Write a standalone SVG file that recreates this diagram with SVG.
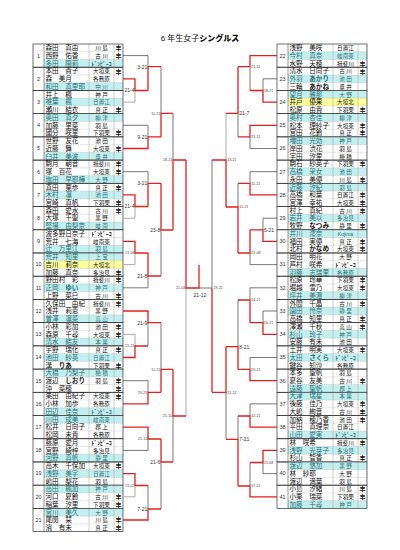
<svg xmlns="http://www.w3.org/2000/svg" xmlns:xlink="http://www.w3.org/1999/xlink" width="400" height="550" viewBox="0 0 400 550">
<style>
text{font-family:"Liberation Sans","Noto Sans CJK JP",sans-serif;fill:#111}
.nm{font-size:6.6px}
.ch{fill:#1f6f78}
.af{font-size:5.6px;text-anchor:middle}
.hk{font-size:5.8px;font-weight:bold}
.mk{font-size:6px;font-weight:bold;text-anchor:middle}
.no{font-size:5.5px;text-anchor:middle;fill:#333}
.b{font-weight:bold}
.c{fill:#c4efef}
.y{fill:#ffff99}
.bx{fill:none;stroke:#333;stroke-width:0.7}
.dl{stroke:#9a9a9a;stroke-width:0.4;stroke-dasharray:1 0.8;fill:none}
.cl{stroke:#333;stroke-width:0.5}
.cl2{stroke:#888;stroke-width:0.4}
.sc{font-family:"Liberation Sans",Arial,sans-serif;font-size:5px;fill:#333}
.ss{font-family:"Liberation Sans",Arial,sans-serif;font-size:3.6px;fill:#444}
.e{text-anchor:end}
.d{stroke:#555;stroke-width:0.8;fill:none}
.g{stroke:#aaa;stroke-width:1;fill:none}
.r{stroke:#e3201b;stroke-width:1.3;fill:none}
</style>
<defs>
<g id="grid">
<path d="M44,7.74H123M44,15.48H123" class="dl"/>
<path d="M44,0V23.22" class="cl"/>
<path d="M89,0V23.22M114,0V23.22" class="cl2"/>
<rect x="33" y="0" width="90" height="23.22" class="bx"/>
</g>
</defs>
<rect width="400" height="550" fill="#fff"/>
<text x="200" y="40.5" text-anchor="middle" font-size="8">6 年生女子<tspan font-weight="900">シングルス</tspan></text>

<g id="g1" transform="translate(0,44)"><rect class="c" x="44" y="15.48" width="79" height="7.74"/><use href="#grid"/><text class="no" x="38.5" y="13.5">1</text>
<text class="nm" x="45.5" y="6.2">森田　真由</text><text class="af" x="101.5" y="6.2">川 島</text><text class="mk" x="118.5" y="6.3">丰</text>
<text class="nm" x="45.5" y="13.94">西野　佑香</text><text class="af" x="101.5" y="13.94">古 川</text><text class="mk" x="118.5" y="14">丰</text>
<text class="nm ch" x="45.5" y="21.68">多田　陽莉</text><text class="af hk ch" x="101.5" y="21.68">ﾄﾞﾝﾋﾟｰｺ</text></g>

<g id="g2" transform="translate(0,67.22)"><rect class="c" x="44" y="15.48" width="79" height="7.74"/><use href="#grid"/><text class="no" x="38.5" y="13.5">2</text>
<text class="nm" x="45.5" y="6.2">本田　貴子</text><text class="af" x="101.5" y="6.2">大垣東</text><text class="mk" x="118.5" y="6.3">丰</text>
<text class="nm" x="45.5" y="13.94">森　美月</text><text class="af" x="101.5" y="13.94">各務原</text>
<text class="nm ch" x="45.5" y="21.68">和田　真里耶</text><text class="af ch" x="101.5" y="21.68">中 川</text></g>

<g id="g3" transform="translate(0,90.44)"><rect class="c" x="44" y="7.74" width="79" height="7.74"/><use href="#grid"/><text class="no" x="38.5" y="13.5">3</text>
<text class="nm" x="45.5" y="6.2">井上　楓</text><text class="af" x="101.5" y="6.2">神 戸</text>
<text class="nm ch" x="45.5" y="13.94">椎葉　楓</text><text class="af ch" x="101.5" y="13.94">日置江</text>
<text class="nm" x="45.5" y="21.68">瀬川　結衣</text><text class="af" x="101.5" y="21.68">真 正</text><text class="mk" x="118.5" y="21.7">丰</text></g>

<g id="g4" transform="translate(0,113.66)"><rect class="c" x="44" y="0" width="79" height="7.74"/><use href="#grid"/><text class="no" x="38.5" y="13.5">4</text>
<text class="nm ch" x="45.5" y="6.2">奥田　真夕</text><text class="af ch" x="101.5" y="6.2">柳 津</text>
<text class="nm" x="45.5" y="13.94">加藤　里菜</text><text class="af" x="101.5" y="13.94">羽 島</text>
<text class="nm" x="45.5" y="21.68">國分　咲里</text><text class="af" x="101.5" y="21.68">下羽栗</text><text class="mk" x="118.5" y="21.7">丰</text></g>

<g id="g5" transform="translate(0,136.88)"><rect class="c" x="44" y="15.48" width="79" height="7.74"/><use href="#grid"/><text class="no" x="38.5" y="13.5">5</text>
<text class="nm" x="45.5" y="6.2">世野　友花</text><text class="af" x="101.5" y="6.2">池 田</text>
<text class="nm" x="45.5" y="13.94">近藤　舞</text><text class="af" x="101.5" y="13.94">大垣東</text><text class="mk" x="118.5" y="14">丰</text>
<text class="nm ch" x="45.5" y="21.68">臼井　美波</text><text class="af ch" x="101.5" y="21.68">垂 井</text></g>

<g id="g6" transform="translate(0,160.1)"><rect class="c" x="44" y="15.48" width="79" height="7.74"/><use href="#grid"/><text class="no" x="38.5" y="13.5">6</text>
<text class="nm" x="45.5" y="6.2">駒月　朝音</text><text class="af" x="101.5" y="6.2">揖斐川</text><text class="mk" x="118.5" y="6.3">丰</text>
<text class="nm" x="45.5" y="13.94">塚　百花</text><text class="af" x="101.5" y="13.94">大垣東</text><text class="mk" x="118.5" y="14">丰</text>
<text class="nm ch" x="45.5" y="21.68">塩田　早耶樺</text><text class="af ch" x="101.5" y="21.68">大 野</text></g>

<g id="g7" transform="translate(0,183.32)"><rect class="c" x="44" y="7.74" width="79" height="7.74"/><use href="#grid"/><text class="no" x="38.5" y="13.5">7</text>
<text class="nm" x="45.5" y="6.2">真田　栗歩</text><text class="af" x="101.5" y="6.2">真 正</text><text class="mk" x="118.5" y="6.3">丰</text>
<text class="nm ch" x="45.5" y="13.94">木村　凛</text><text class="af ch" x="101.5" y="13.94">池 田</text>
<text class="nm" x="45.5" y="21.68">宮崎　真帆</text><text class="af" x="101.5" y="21.68">下羽栗</text><text class="mk" x="118.5" y="21.7">丰</text></g>

<g id="g8" transform="translate(0,206.54)"><rect class="c" x="44" y="15.48" width="79" height="7.74"/><use href="#grid"/><text class="no" x="38.5" y="13.5">8</text>
<text class="nm" x="45.5" y="6.2">森田　愛水</text><text class="af" x="101.5" y="6.2">古 川</text><text class="mk" x="118.5" y="6.3">丰</text>
<text class="nm" x="45.5" y="13.94">大塚　千聖</text><text class="af" x="101.5" y="13.94">黒 野</text>
<text class="nm ch" x="45.5" y="21.68">堅場　由梨奈</text><text class="af ch" x="101.5" y="21.68">岐 南</text></g>

<g id="g9" transform="translate(0,229.76)"><rect class="c" x="44" y="15.48" width="79" height="7.74"/><use href="#grid"/><text class="no" x="38.5" y="13.5">9</text>
<text class="nm" x="45.5" y="6.2">波多野日奈子</text><text class="af hk" x="101.5" y="6.2">ﾄﾞﾝﾋﾟｰｺ</text>
<text class="nm" x="45.5" y="13.94">荒井　七海</text><text class="af" x="101.5" y="13.94">岐南東</text>
<text class="nm ch" x="45.5" y="21.68">辻　万里江</text><text class="af ch" x="101.5" y="21.68">羽 島</text></g>

<g id="g10" transform="translate(0,252.98)"><rect class="c" x="44" y="0" width="79" height="7.74"/><rect class="y" x="44" y="7.74" width="79" height="7.74"/><use href="#grid"/><text class="no" x="38.5" y="13.5">10</text>
<text class="nm ch" x="45.5" y="6.2">荒井　知里</text><text class="af ch" x="101.5" y="6.2">上 宝</text>
<text class="nm" x="45.5" y="13.94">吉川　莉奈</text><text class="af" x="101.5" y="13.94">大垣北</text>
<text class="nm" x="45.5" y="21.68">加藤　真奈</text><text class="af" x="101.5" y="21.68">多治見</text><text class="mk" x="118.5" y="21.7">丰</text></g>

<g id="g11" transform="translate(0,276.2)"><rect class="c" x="44" y="7.74" width="79" height="7.74"/><use href="#grid"/><text class="no" x="38.5" y="13.5">11</text>
<text class="nm" x="45.5" y="6.2">野田村　彩</text><text class="af" x="101.5" y="6.2">揖斐川</text><text class="mk" x="118.5" y="6.3">丰</text>
<text class="nm ch" x="45.5" y="13.94">正岡　<tspan class="b">ゆい</tspan></text><text class="af ch" x="101.5" y="13.94">神 戸</text>
<text class="nm" x="45.5" y="21.68">上野　菜巳</text><text class="af" x="101.5" y="21.68">古 川</text><text class="mk" x="118.5" y="21.7">丰</text></g>

<g id="g12" transform="translate(0,299.42)"><rect class="c" x="44" y="15.48" width="79" height="7.74"/><use href="#grid"/><text class="no" x="38.5" y="13.5">12</text>
<text class="nm" x="45.5" y="6.2">久保田　由紀</text><text class="af" x="101.5" y="6.2">揖斐川</text><text class="mk" x="118.5" y="6.3">丰</text>
<text class="nm" x="45.5" y="13.94">浅井　莉恵</text><text class="af" x="101.5" y="13.94">黒 野</text>
<text class="nm ch" x="45.5" y="21.68">曽澤　凛菜</text><text class="af ch" x="101.5" y="21.68">高 山</text></g>

<g id="g13" transform="translate(0,322.64)"><rect class="c" x="44" y="15.48" width="79" height="7.74"/><use href="#grid"/><text class="no" x="38.5" y="13.5">13</text>
<text class="nm" x="45.5" y="6.2">小林　彩加</text><text class="af" x="101.5" y="6.2">池 田</text><text class="mk" x="118.5" y="6.3">丰</text>
<text class="nm" x="45.5" y="13.94">森原　千尋</text><text class="af" x="101.5" y="13.94">大垣東</text><text class="mk" x="118.5" y="14">丰</text>
<text class="nm ch" x="45.5" y="21.68">清水　結友</text><text class="af ch" x="101.5" y="21.68">本 巣</text></g>

<g id="g14" transform="translate(0,345.86)"><rect class="c" x="44" y="7.74" width="79" height="7.74"/><use href="#grid"/><text class="no" x="38.5" y="13.5">14</text>
<text class="nm" x="45.5" y="6.2">宇野　瑞化</text><text class="af" x="101.5" y="6.2">真 正</text><text class="mk" x="118.5" y="6.3">丰</text>
<text class="nm ch" x="45.5" y="13.94">池田　紗英</text><text class="af ch" x="101.5" y="13.94">日置江</text>
<text class="nm" x="45.5" y="21.68">溝　<tspan class="b">りあ</tspan></text><text class="af" x="101.5" y="21.68">下羽栗</text><text class="mk" x="118.5" y="21.7">丰</text></g>

<g id="g15" transform="translate(0,369.08)"><rect class="c" x="44" y="0" width="79" height="7.74"/><use href="#grid"/><text class="no" x="38.5" y="13.5">15</text>
<text class="nm ch" x="45.5" y="6.2">大橋　乃梨子</text><text class="af ch" x="101.5" y="6.2">穂 積</text>
<text class="nm" x="45.5" y="13.94">渡辺　<tspan class="b">しおり</tspan></text><text class="af" x="101.5" y="13.94">羽 島</text><text class="mk" x="118.5" y="14">丰</text>
<text class="nm" x="45.5" y="21.68">沖　菜穂</text><text class="mk" x="118.5" y="21.7">丰</text></g>

<g id="g16" transform="translate(0,392.3)"><rect class="c" x="44" y="15.48" width="79" height="7.74"/><use href="#grid"/><text class="no" x="38.5" y="13.5">16</text>
<text class="nm" x="45.5" y="6.2">栗田　由紀子</text><text class="af" x="101.5" y="6.2">大垣東</text><text class="mk" x="118.5" y="6.3">丰</text>
<text class="nm" x="45.5" y="13.94">小林　加歩</text><text class="af" x="101.5" y="13.94">各務原</text>
<text class="nm ch" x="45.5" y="21.68">田辺　佳奈</text><text class="af hk ch" x="101.5" y="21.68">ﾄﾞﾝﾋﾟｰｺ</text></g>

<g id="g17" transform="translate(0,415.52)"><rect class="c" x="44" y="0" width="79" height="7.74"/><use href="#grid"/><text class="no" x="38.5" y="13.5">17</text>
<text class="nm ch" x="45.5" y="6.2">川田　成美</text><text class="af ch" x="101.5" y="6.2">岐南東</text>
<text class="nm" x="45.5" y="13.94">松井　日向子</text><text class="af" x="101.5" y="13.94">郡 上</text>
<text class="nm" x="45.5" y="21.68">松岡　未貴</text><text class="af" x="101.5" y="21.68">各務原</text></g>

<g id="g18" transform="translate(0,438.74)"><rect class="c" x="44" y="15.48" width="79" height="7.74"/><use href="#grid"/><text class="no" x="38.5" y="13.5">18</text>
<text class="nm" x="45.5" y="6.2">藤原　愛月</text><text class="af hk" x="101.5" y="6.2">ﾄﾞﾝﾋﾟｰｺ</text>
<text class="nm" x="45.5" y="13.94">宮野　綺梓</text><text class="af" x="101.5" y="13.94">多治見</text>
<text class="nm ch" x="45.5" y="21.68">河野　真帆</text><text class="af ch" x="101.5" y="21.68">静 里</text></g>

<g id="g19" transform="translate(0,461.96)"><rect class="c" x="44" y="7.74" width="79" height="7.74"/><use href="#grid"/><text class="no" x="38.5" y="13.5">19</text>
<text class="nm" x="45.5" y="6.2">高木　千保加</text><text class="af" x="101.5" y="6.2">大垣東</text><text class="mk" x="118.5" y="6.3">丰</text>
<text class="nm ch" x="45.5" y="13.94">浅野　美宇</text><text class="af ch" x="101.5" y="13.94">日置江</text>
<text class="nm" x="45.5" y="21.68">嶋田　梨花</text><text class="af" x="101.5" y="21.68">羽 島</text></g>

<g id="g20" transform="translate(0,485.18)"><rect class="c" x="44" y="0" width="79" height="7.74"/><use href="#grid"/><text class="no" x="38.5" y="13.5">20</text>
<text class="nm ch" x="45.5" y="6.2">高田　楓加</text><text class="af ch" x="101.5" y="6.2">神 戸</text>
<text class="nm" x="45.5" y="13.94">河口　夏鈴</text><text class="af" x="101.5" y="13.94">古 川</text><text class="mk" x="118.5" y="14">丰</text>
<text class="nm" x="45.5" y="21.68">稲葉　汐里</text><text class="af" x="101.5" y="21.68">下羽栗</text><text class="mk" x="118.5" y="21.7">丰</text></g>

<g id="g21" transform="translate(0,508.4)"><rect class="c" x="44" y="0" width="79" height="7.74"/><use href="#grid"/><text class="no" x="38.5" y="13.5">21</text>
<text class="nm ch" x="45.5" y="6.2">宮川　美久</text><text class="af ch" x="101.5" y="6.2">大 野</text>
<text class="nm" x="45.5" y="13.94">尾関　栞</text><text class="af" x="101.5" y="13.94">川 島</text><text class="mk" x="118.5" y="14">丰</text>
<text class="nm" x="45.5" y="21.68">濱　有未</text><text class="af" x="101.5" y="21.68">真 正</text><text class="mk" x="118.5" y="21.7">丰</text></g>

<g id="g22" transform="translate(244,44)"><rect class="c" x="44" y="7.74" width="79" height="7.74"/><use href="#grid"/><text class="no" x="38.5" y="13.5">22</text>
<text class="nm" x="45.5" y="6.2">浅野　美咲</text><text class="af" x="101.5" y="6.2">日置江</text>
<text class="nm ch" x="45.5" y="13.94">今村　真奈</text><text class="af ch" x="101.5" y="13.94">岐南東</text>
<text class="nm" x="45.5" y="21.68">水野　天穂</text><text class="af" x="101.5" y="21.68">揖斐川</text><text class="mk" x="118.5" y="21.7">丰</text></g>

<g id="g23" transform="translate(244,67.22)"><rect class="c" x="44" y="7.74" width="79" height="7.74"/><use href="#grid"/><text class="no" x="38.5" y="13.5">23</text>
<text class="nm" x="45.5" y="6.2">清水　日向子</text><text class="af" x="101.5" y="6.2">古 川</text><text class="mk" x="118.5" y="6.3">丰</text>
<text class="nm ch" x="45.5" y="13.94">外羽　<tspan class="b">あかり</tspan></text><text class="af ch" x="101.5" y="13.94">池 田</text>
<text class="nm" x="45.5" y="21.68">三輪　<tspan class="b">あかね</tspan></text><text class="af" x="101.5" y="21.68">垂 井</text></g>

<g id="g24" transform="translate(244,90.44)"><rect class="c" x="44" y="0" width="79" height="7.74"/><rect class="y" x="44" y="7.74" width="79" height="7.74"/><use href="#grid"/><text class="no" x="38.5" y="13.5">24</text>
<text class="nm ch" x="45.5" y="6.2">望月　雅那</text><text class="af ch" x="101.5" y="6.2">大 野</text>
<text class="nm" x="45.5" y="13.94">井戸　優果</text><text class="af" x="101.5" y="13.94">大垣北</text>
<text class="nm" x="45.5" y="21.68">松原　由貴</text><text class="af" x="101.5" y="21.68">下羽栗</text><text class="mk" x="118.5" y="21.7">丰</text></g>

<g id="g25" transform="translate(244,113.66)"><rect class="c" x="44" y="0" width="79" height="7.74"/><use href="#grid"/><text class="no" x="38.5" y="13.5">25</text>
<text class="nm ch" x="45.5" y="6.2">奥村　杏佳</text><text class="af ch" x="101.5" y="6.2">柳 津</text>
<text class="nm" x="45.5" y="13.94">松本　理紗子</text><text class="af" x="101.5" y="13.94">大垣東</text><text class="mk" x="118.5" y="14">丰</text>
<text class="nm" x="45.5" y="21.68">宮田　花鈴</text><text class="af" x="101.5" y="21.68">真 正</text><text class="mk" x="118.5" y="21.7">丰</text></g>

<g id="g26" transform="translate(244,136.88)"><rect class="c" x="44" y="0" width="79" height="7.74"/><use href="#grid"/><text class="no" x="38.5" y="13.5">26</text>
<text class="nm ch" x="45.5" y="6.2">増田　光効</text><text class="af ch" x="101.5" y="6.2">神 戸</text>
<text class="nm" x="45.5" y="13.94">岸田　渋花</text><text class="af" x="101.5" y="13.94">羽 島</text>
<text class="nm" x="45.5" y="21.68">宇田　汐里</text><text class="af" x="101.5" y="21.68">穂 積</text></g>

<g id="g27" transform="translate(244,160.1)"><rect class="c" x="44" y="7.74" width="79" height="7.74"/><use href="#grid"/><text class="no" x="38.5" y="13.5">27</text>
<text class="nm" x="45.5" y="6.2">駒石　紗英子</text><text class="af" x="101.5" y="6.2">下羽栗</text><text class="mk" x="118.5" y="6.3">丰</text>
<text class="nm ch" x="45.5" y="13.94">高橋　采女</text><text class="af ch" x="101.5" y="13.94">池 田</text>
<text class="nm" x="45.5" y="21.68">永田　美優</text><text class="af" x="101.5" y="21.68">川 島</text><text class="mk" x="118.5" y="21.7">丰</text></g>

<g id="g28" transform="translate(244,183.32)"><rect class="c" x="44" y="0" width="79" height="7.74"/><use href="#grid"/><text class="no" x="38.5" y="13.5">28</text>
<text class="nm ch" x="45.5" y="6.2">近藤　汐紀</text><text class="af ch" x="101.5" y="6.2">羽 島</text>
<text class="nm" x="45.5" y="13.94">高橋　和葉</text><text class="af" x="101.5" y="13.94">日置江</text><text class="mk" x="118.5" y="14">丰</text>
<text class="nm" x="45.5" y="21.68">宮澤　幸祐</text><text class="af" x="101.5" y="21.68">大垣東</text><text class="mk" x="118.5" y="21.7">丰</text></g>

<g id="g29" transform="translate(244,206.54)"><rect class="c" x="44" y="7.74" width="79" height="7.74"/><use href="#grid"/><text class="no" x="38.5" y="13.5">29</text>
<text class="nm" x="45.5" y="6.2">村上　真紀</text><text class="af" x="101.5" y="6.2">古 川</text><text class="mk" x="118.5" y="6.3">丰</text>
<text class="nm ch" x="45.5" y="13.94">岩井　美以</text><text class="af ch" x="101.5" y="13.94">多治見</text>
<text class="nm" x="45.5" y="21.68">牧野　<tspan class="b">なつみ</tspan></text><text class="af" x="101.5" y="21.68">静 里</text><text class="mk" x="118.5" y="21.7">丰</text></g>

<g id="g30" transform="translate(244,229.76)"><rect class="c" x="44" y="0" width="79" height="7.74"/><use href="#grid"/><text class="no" x="38.5" y="13.5">30</text>
<text class="nm ch" x="45.5" y="6.2">井川　澪奈</text><text class="af ch" x="101.5" y="6" style="font-size:5px">Kojima</text>
<text class="nm" x="45.5" y="13.94">福田　実優</text><text class="af" x="101.5" y="13.94">真 正</text><text class="mk" x="118.5" y="14">丰</text>
<text class="nm" x="45.5" y="21.68">北村　<tspan class="b">かなめ</tspan></text><text class="af" x="101.5" y="21.68">大垣東</text><text class="mk" x="118.5" y="21.7">丰</text></g>

<g id="g31" transform="translate(244,252.98)"><rect class="c" x="44" y="15.48" width="79" height="7.74"/><use href="#grid"/><text class="no" x="38.5" y="13.5">31</text>
<text class="nm" x="45.5" y="6.2">岡田　明花</text><text class="af" x="101.5" y="6.2">大 野</text>
<text class="nm" x="45.5" y="13.94">芦村　咲希</text><text class="af hk" x="101.5" y="13.94">ﾄﾞﾝﾋﾟｰｺ</text>
<text class="nm ch" x="45.5" y="21.68">羽藤　志瑞里</text><text class="af ch" x="101.5" y="21.68">各務原</text></g>

<g id="g32" transform="translate(244,276.2)"><rect class="c" x="44" y="15.48" width="79" height="7.74"/><use href="#grid"/><text class="no" x="38.5" y="13.5">32</text>
<text class="nm" x="45.5" y="6.2">松原　玲華</text><text class="af" x="101.5" y="6.2">下羽栗</text><text class="mk" x="118.5" y="6.3">丰</text>
<text class="nm" x="45.5" y="13.94">堀越　雪乃</text><text class="af" x="101.5" y="13.94">大垣東</text><text class="mk" x="118.5" y="14">丰</text>
<text class="nm ch" x="45.5" y="21.68">坪井　美澄</text><text class="af ch" x="101.5" y="21.68">柳 津</text></g>

<g id="g33" transform="translate(244,299.42)"><rect class="c" x="44" y="7.74" width="79" height="7.74"/><use href="#grid"/><text class="no" x="38.5" y="13.5">33</text>
<text class="nm" x="45.5" y="6.2">外間　千晶</text><text class="af" x="101.5" y="6.2">古 川</text><text class="mk" x="118.5" y="6.3">丰</text>
<text class="nm ch" x="45.5" y="13.94">園田　怜奈</text><text class="af ch" x="101.5" y="13.94">静 里</text>
<text class="nm" x="45.5" y="21.68">高橋　知里</text><text class="af" x="101.5" y="21.68">真 正</text><text class="mk" x="118.5" y="21.7">丰</text></g>

<g id="g34" transform="translate(244,322.64)"><rect class="c" x="44" y="7.74" width="79" height="7.74"/><use href="#grid"/><text class="no" x="38.5" y="13.5">34</text>
<text class="nm" x="45.5" y="6.2">澤瀬　千秋</text><text class="af" x="101.5" y="6.2">高 山</text><text class="mk" x="118.5" y="6.3">丰</text>
<text class="nm ch" x="45.5" y="13.94">杉山　玲子</text><text class="af ch" x="101.5" y="13.94">神 戸</text>
<text class="nm" x="45.5" y="21.68">安藤　有未</text><text class="af" x="101.5" y="21.68">池 田</text></g>

<g id="g35" transform="translate(244,345.86)"><rect class="c" x="44" y="7.74" width="79" height="7.74"/><use href="#grid"/><text class="no" x="38.5" y="13.5">35</text>
<text class="nm" x="45.5" y="6.2">土井　明実</text><text class="af" x="101.5" y="6.2">大垣東</text><text class="mk" x="118.5" y="6.3">丰</text>
<text class="nm ch" x="45.5" y="13.94">太田　<tspan class="b">さくら</tspan></text><text class="af hk ch" x="101.5" y="13.94">ﾄﾞﾝﾋﾟｰｺ</text>
<text class="nm" x="45.5" y="21.68">鍵谷　知沙</text><text class="af" x="101.5" y="21.68">各務原</text></g>

<g id="g36" transform="translate(244,369.08)"><rect class="c" x="44" y="15.48" width="79" height="7.74"/><use href="#grid"/><text class="no" x="38.5" y="13.5">36</text>
<text class="nm" x="45.5" y="6.2">本多　聖帆</text><text class="af" x="101.5" y="6.2">羽 島</text>
<text class="nm" x="45.5" y="13.94">夏谷　友美</text><text class="af" x="101.5" y="13.94">古 川</text><text class="mk" x="118.5" y="14">丰</text>
<text class="nm ch" x="45.5" y="21.68">遠藤　聖帆</text><text class="af ch" x="101.5" y="21.68">郡 上</text></g>

<g id="g37" transform="translate(244,392.3)"><rect class="c" x="44" y="0" width="79" height="7.74"/><use href="#grid"/><text class="no" x="38.5" y="13.5">37</text>
<text class="nm ch" x="45.5" y="6.2">大津　瑞星</text><text class="af ch" x="101.5" y="6.2">本 巣</text>
<text class="nm" x="45.5" y="13.94">後藤　佳乃</text><text class="af" x="101.5" y="13.94">大垣東</text><text class="mk" x="118.5" y="14">丰</text>
<text class="nm" x="45.5" y="21.68">大嶋　絢音</text><text class="af" x="101.5" y="21.68">古 川</text><text class="mk" x="118.5" y="21.7">丰</text></g>

<g id="g38" transform="translate(244,415.52)"><rect class="c" x="44" y="15.48" width="79" height="7.74"/><use href="#grid"/><text class="no" x="38.5" y="13.5">38</text>
<text class="nm" x="45.5" y="6.2">加納　穂乃香</text><text class="af" x="101.5" y="6.2">池 田</text><text class="mk" x="118.5" y="6.3">丰</text>
<text class="nm" x="45.5" y="13.94">平田　真理奈</text><text class="af" x="101.5" y="13.94">日置江</text>
<text class="nm ch" x="45.5" y="21.68">山田　愛実</text><text class="af hk ch" x="101.5" y="21.68">ﾄﾞﾝﾋﾟｰｺ</text></g>

<g id="g39" transform="translate(244,438.74)"><rect class="c" x="44" y="7.74" width="79" height="7.74"/><use href="#grid"/><text class="no" x="38.5" y="13.5">39</text>
<text class="nm" x="45.5" y="6.2">林　咲希</text><text class="af" x="101.5" y="6.2">揖斐川</text><text class="mk" x="118.5" y="6.3">丰</text>
<text class="nm ch" x="45.5" y="13.94">浅野　光芽子</text><text class="af ch" x="101.5" y="13.94">多治見</text>
<text class="nm" x="45.5" y="21.68">杉山　智香</text><text class="af" x="101.5" y="21.68">真 正</text><text class="mk" x="118.5" y="21.7">丰</text></g>

<g id="g40" transform="translate(244,461.96)"><rect class="c" x="44" y="0" width="79" height="7.74"/><use href="#grid"/><text class="no" x="38.5" y="13.5">40</text>
<text class="nm ch" x="45.5" y="6.2">渡辺　悠加</text><text class="af ch" x="101.5" y="6.2">黒 野</text>
<text class="nm" x="45.5" y="13.94">林　紗耶</text><text class="af" x="101.5" y="13.94">大 野</text>
<text class="nm" x="45.5" y="21.68">渡辺　満葉</text><text class="af" x="101.5" y="21.68">羽 島</text></g>

<g id="g41" transform="translate(244,485.18)"><rect class="c" x="44" y="15.48" width="79" height="7.74"/><use href="#grid"/><text class="no" x="38.5" y="13.5">41</text>
<text class="nm" x="45.5" y="6.2">小島　汐緒</text><text class="af" x="101.5" y="6.2">川 島</text><text class="mk" x="118.5" y="6.3">丰</text>
<text class="nm" x="45.5" y="13.94">小栗　瑞菜</text><text class="af" x="101.5" y="13.94">下羽栗</text><text class="mk" x="118.5" y="14">丰</text>
<text class="nm ch" x="45.5" y="21.68">加藤　千尋</text><text class="af ch" x="101.5" y="21.68">神 戸</text></g>

<g id="connectors">
<path class="d" d="M123,55.6H148V66.7M123,125.3H148V136.9M161,66.7V113.3M123,171.7H148V183.3M123,287.8H148V276M161,276V230M173,113.3V160M148,346V322.7M123,380.7H148V392.3M161,322.7V369.3M123,450.4H148V439M148,485.5V509M161,509V462M173,462V416"/>
<path class="g" d="M123,102.1H135V90.5M123,218.2H135V206.5M123,264.6H135V253M123,334.3H135V346M123,496.8H135V485.5M186,416V288"/>
<path class="r" d="M123,78.8H135V90.5H148M148,90.5V66.7H161M123,148.5H148V136.9H161M161,136.9V113.3H173M123,194.9H135V206.5H148M148,206.5V183.3H161M123,241.4H135V253H148M148,253V276H161M161,183.3V230H173M173,230V160H186M123,357.5H135V346H148M123,311H148V322.7H161M123,403.9H148V392.3H161M161,392.3V369.3H173M123,427.1H148V439H161M123,473.6H135V485.5H148M123,520H148V509H161M161,439V462H173M173,369.3V416H186M186,160V288H199V265"/>
<path class="d" d="M277,78.8H263V90.5M250,90.5V66.7M277,148.5H250V136.9M238,136.9V113.3M277,171.7H250V183.3M277,218.2H263V229.8M277,264.6H250V253M238,183.3V207M277,311H263V322.7M277,287.8H250V300M277,357.5H250V369.3M238,300V346.7M277,403.9H250V416M277,473.6H263V462.5M250,462.5V486M238,416V439.3M226,439.3V392.3M212,160V288H199"/>
<path class="g" d="M226,113.3V160"/>
<path class="r" d="M277,102.1H263V90.5H250M277,55.6H250V66.7H238M277,125.3H250V136.9H238M238,66.7V113.3H226M277,194.9H250V183.3H238M277,241.4H263V229.8H250M250,229.8V253H238M238,253V207H226M226,207V160H212M277,334.3H263V322.7H250M250,322.7V300H238M277,380.7H250V369.3H238M238,369.3V346.7H226M277,427.1H250V416H238M277,450.4H263V462.5H250M277,496.8H250V486H238M238,486V439.3H226M226,346.7V392.3H212M212,392.3V288"/>
</g>

<g id="scores">
<text class="sc e" x="134.5" y="92.3">21-4</text>
<text class="sc e" x="147.3" y="68.5">3-21</text>
<text class="sc e" x="147.3" y="138.7">9-21</text>
<text class="ss e" x="160.3" y="114.6">11-21</text>
<text class="ss e" x="172.3" y="161.3">18-21</text>
<text class="sc e" x="134.5" y="208.3">21-4</text>
<text class="sc e" x="147.3" y="185.1">3-21</text>
<text class="ss e" x="134.5" y="254.3">21-08</text>
<text class="sc e" x="147.3" y="277.8">21-8</text>
<text class="sc e" x="160.3" y="231.8">23-8</text>
<text class="ss e" x="185.3" y="289.3">21-03</text>
<text class="ss e" x="134.5" y="347.3">15-21</text>
<text class="sc e" x="147.3" y="324.5">21-9</text>
<text class="ss e" x="147.3" y="393.6">19-21</text>
<text class="ss e" x="160.3" y="370.6">11-21</text>
<text class="ss e" x="147.3" y="440.3">21-12</text>
<text class="ss e" x="134.5" y="486.8">21-07</text>
<text class="sc e" x="147.3" y="510.8">7-21</text>
<text class="sc e" x="160.3" y="463.8">21-6</text>
<text class="ss e" x="172.3" y="417.3">21-10</text>
<text class="sc" x="200" y="297" text-anchor="middle" font-size="5.5">21-12</text>
<text class="ss" x="213.5" y="289.3">19-21</text>
<text class="ss" x="264" y="91.8">18-21</text>
<text class="ss" x="251.3" y="68">21-11</text>
<text class="ss" x="251.3" y="138.2">21-11</text>
<text class="sc" x="239.3" y="115.1">21-7</text>
<text class="ss" x="227.3" y="161.3">13-21</text>
<text class="ss" x="251.3" y="184.6">11-21</text>
<text class="sc" x="264" y="231.6">5-21</text>
<text class="ss" x="251.3" y="254.3">21-08</text>
<text class="ss" x="239.3" y="208.3">11-21</text>
<text class="ss" x="264" y="324">20-21</text>
<text class="ss" x="251.3" y="301.3">14-21</text>
<text class="ss" x="251.3" y="370.6">20-21</text>
<text class="sc" x="239.3" y="348.5">8-21</text>
<text class="ss" x="251.3" y="417.3">12-21</text>
<text class="ss" x="264" y="463.8">21-08</text>
<text class="ss" x="251.3" y="487.3">17-21</text>
<text class="sc" x="239.3" y="441.1">7-21</text>
<text class="ss" x="227.3" y="393.6">21-12</text>
</g>
</svg>
